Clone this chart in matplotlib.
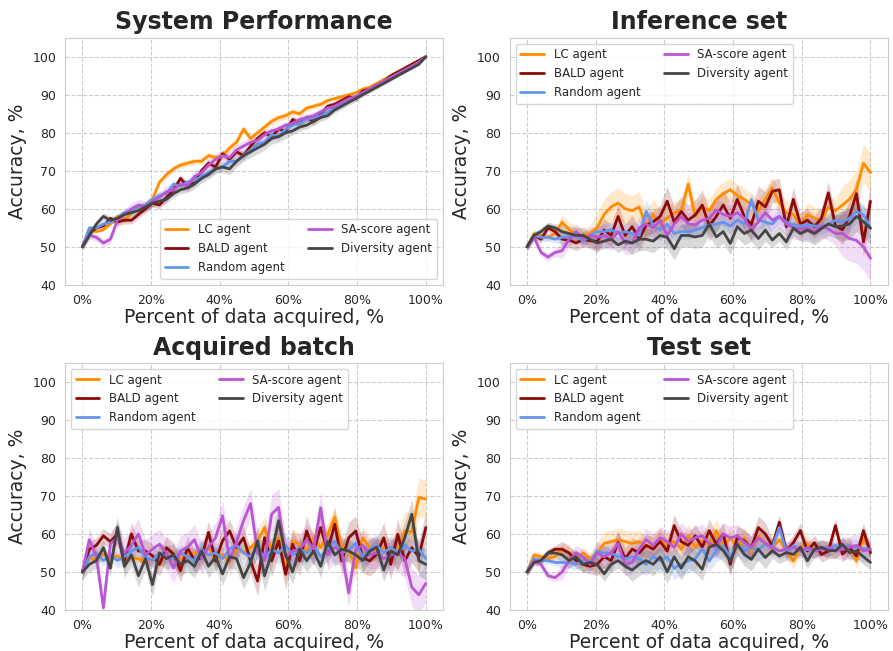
import numpy as np
import matplotlib
matplotlib.use("Agg")
import matplotlib.pyplot as plt
import seaborn as sns
from matplotlib.ticker import FuncFormatter

sns.set_style("whitegrid", {"grid.linestyle": "--"})
plt.rcParams['font.family'] = ['DejaVu Sans']

# agents and colours
agents = ['LC agent', 'BALD agent', 'Random agent', 'SA-score agent', 'Diversity agent']
colors = ['darkorange', '#8b0a0a', 'cornflowerblue', 'mediumorchid', '#454545']
titles = ['System Performance', 'Inference set', 'Acquired batch', 'Test set']

# percent of data acquired (50 steps)
pct = np.linspace(0, 100, 50)

# ---- System Performance ----
sys_lc = [50, 54.5, 54, 54.5, 56, 58, 57, 59, 60.5, 61, 62.5, 67, 69, 70.5, 71.5, 72, 72.5, 72.5, 74, 73.5,
          74, 76, 77.5, 81, 78.5, 80, 81.5, 83, 84, 84.5, 85.5, 85, 86.5, 87, 87.5, 88.5, 89, 89.5, 90, 90.5,
          91.5, 92, 93, 94, 95, 96, 97, 98, 99, 100]
sys_bald = [50, 53.5, 55, 55.5, 57.5, 56.5, 57, 57, 58.5, 60, 61.5, 61, 63, 65, 68, 66, 67, 70, 72, 71,
            74.5, 73, 75, 74, 76.5, 78.5, 80, 79, 81, 80.5, 83.5, 82.5, 84, 83, 85, 87, 87.5, 88.5, 89.5, 89,
            91, 91.5, 92.5, 93.5, 95, 96, 97, 98, 99, 100]
sys_rand = [50, 55, 55, 56, 56.5, 57.5, 59, 59.5, 60.5, 61, 62.5, 63.5, 64, 66.5, 66, 67, 67.5, 68.5, 69.5, 70.5,
            71, 72.5, 72.5, 74, 75.5, 77, 77.5, 79.5, 79, 81, 82, 82.5, 83.5, 84, 84.5, 85.5, 86.5, 87.5, 88.5, 89.5,
            90.5, 91.5, 92.5, 93.5, 94.5, 95.5, 96.5, 97.5, 98.5, 100]
sys_sa = [50, 53, 52.5, 51, 52, 57, 58.5, 60, 61, 60.5, 62, 63, 64.5, 65, 66.5, 66, 68.5, 69.5, 71.5, 73,
          74, 73.5, 75.5, 76.5, 77.5, 78, 79.5, 80.5, 81, 82, 82.5, 83.5, 84, 84.5, 85.5, 86.5, 87, 88, 89, 89.5,
          90.5, 91.5, 92.5, 93.5, 94.5, 95.5, 96.5, 97.5, 98.5, 100]
sys_div = [50, 53, 56, 58, 57, 57.5, 58.5, 59, 59.5, 60.5, 61.5, 62, 62.5, 64, 65, 65.5, 66.5, 68, 69, 70.5,
           71, 70.5, 72.5, 74, 75, 76, 77, 78.5, 79, 80, 80.5, 81.5, 82, 83, 84, 84.5, 86, 87, 88, 89,
           90, 91, 92, 93, 94, 95, 96, 97, 98, 100]
sys_std = [[0.3, 0.8, 0.8, 0.8, 1.0, 1.0, 0.8, 0.6, 0.4, 0.2],
           [0.5, 1.0, 1.0, 1.0, 1.0, 1.0, 1.0, 0.8, 0.5, 0.2],
           [0.5, 1.0, 1.0, 1.0, 1.0, 1.0, 0.8, 0.6, 0.4, 0.2],
           [1.0, 1.5, 1.5, 1.5, 1.5, 1.0, 1.0, 0.8, 0.5, 0.2],
           [1.0, 1.0, 1.0, 1.2, 1.5, 1.5, 1.0, 0.8, 0.5, 0.2]]

# ---- Inference set ----
inf_lc = [50, 53.5, 53, 52.5, 53.5, 56.5, 54.5, 53.5, 53, 53.5, 55, 58.5, 60.5, 61.5, 60, 59.5, 60.5, 55.5, 58.5, 56,
          57.5, 59, 59.5, 66.5, 58, 60.5, 59.5, 62.5, 64, 65, 63.5, 62.5, 61, 59.5, 62.5, 65.5, 61.5, 59, 58.5, 55.5,
          58.5, 57.5, 57, 60.5, 59.5, 61, 62.5, 65, 72, 69.5]
inf_bald = [50, 53, 52, 55, 54, 52, 51.8, 51, 52, 51.6, 51.4, 54.4, 53, 58, 53, 55.3, 52, 55.7, 56.6, 58,
            62, 56.5, 59.3, 57, 58.4, 61, 55.5, 58, 61, 57.5, 62.5, 58, 55.8, 62, 60.5, 64.6, 65, 55.3, 62.5, 56,
            57, 55.3, 57.5, 64.2, 55.5, 54.5, 58, 64, 51.3, 62]
inf_rand = [50, 53, 52.5, 52.5, 52, 52.5, 52.5, 53, 51.5, 53, 54, 54, 54.5, 53.5, 54, 53.5, 53, 59.3, 55.5, 54.5,
            56, 53.5, 54, 54, 54.4, 55, 55.8, 56, 56.5, 55.5, 57, 56, 62.4, 57, 56.5, 56, 58, 56.5, 55.8, 55.5,
            55.8, 55.5, 55.3, 56, 57, 56.5, 57.5, 59.3, 58.4, 54.9]
inf_sa = [50, 52.5, 48.5, 47.3, 48.5, 49, 52, 54, 52, 53, 52.5, 53, 52, 54, 51, 51, 55, 56, 55, 57,
          53, 56, 58, 56, 55.8, 57, 57.5, 59.7, 58.5, 58, 59, 57.5, 54.5, 56.5, 59, 57, 58, 56, 55, 54.7,
          55, 54, 55.5, 54.7, 53.5, 53.5, 52.2, 51.7, 50, 47]
inf_div = [50, 53, 54, 55.5, 55, 54, 53.5, 53, 53, 52, 51, 51.5, 52, 50.5, 51.5, 51, 52, 52, 51.5, 53,
           52.5, 49.5, 53, 53, 52.6, 53, 56, 52.6, 54, 50.9, 55.3, 53.5, 54.4, 52.2, 54.4, 51.8, 53.5, 51.3, 54.9, 53.5,
           54.4, 53.5, 54.8, 56, 55.3, 55.5, 56, 58, 56.6, 54.9]
inf_std = [[1, 2, 4, 4, 3, 3, 3, 3, 3, 5],
           [1, 2, 3, 3, 4, 4, 4, 3, 3, 4],
           [1, 1.5, 2, 3, 2, 2, 2, 2, 2, 3],
           [1, 2, 3, 3, 3, 3, 3, 3, 3, 6],
           [1, 2, 2, 3, 3, 3, 3, 2, 3, 4]]

# ---- Acquired batch ----
acq_lc = [50, 53.8, 53, 54.7, 53.8, 54.2, 52.9, 53.8, 53.4, 52.9, 53.4, 52.9, 53.8, 54.7, 53.4, 54.7, 55.1, 54.7, 56.4, 52.9,
          54.7, 52.5, 56.4, 55.1, 56.4, 58.2, 61.7, 55.5, 59, 50.3, 58.2, 57.3, 55.5, 59, 56.4, 59.9, 64.4, 56.6, 55.5, 51.1,
          59, 56.4, 55.5, 56.4, 56, 55.5, 60.8, 60.5, 69.6, 69.2]
acq_bald = [50, 56, 57, 59.5, 58, 60, 52.9, 60, 55.5, 55.5, 54.3, 52, 56.4, 54.7, 50.3, 56.4, 52.9, 53.8, 60.4, 52.9,
            58.2, 60.8, 56.4, 59, 52.9, 47.6, 59, 52.9, 58.2, 49.4, 57.3, 52.9, 60.8, 55.5, 61.7, 55.5, 62.6, 52.9, 59, 60.8,
            53.8, 52.9, 54.7, 59, 52, 59.9, 52.9, 56.4, 54, 61.7]
acq_rand = [50, 54, 55, 53, 54.5, 53, 54, 55.5, 56.5, 54, 53, 55, 54, 53.5, 55, 54, 53, 56, 54.5, 55,
            53.5, 56, 57, 55, 54, 56.5, 53.5, 56, 55, 57, 54.5, 56, 55, 57, 54, 56, 58, 55, 56, 57.5,
            54, 56, 57, 55, 56.5, 55, 57, 55.5, 56, 53.5]
acq_sa = [50, 58.5, 54, 40.6, 57.5, 59, 55, 57, 60, 54.5, 56, 57.3, 55, 51, 55.5, 56.5, 58.5, 53.5, 56.5, 59,
          64.8, 53, 58, 63.5, 68, 55, 53, 65.2, 67, 54, 55.5, 56, 58.5, 56, 66.9, 54.5, 56.5, 55.5, 44.5, 56,
          57, 54.5, 55, 53.5, 54.5, 55, 53.5, 46, 44, 47]
acq_div = [50, 52, 53, 56.4, 51, 61.7, 51.5, 54.5, 49, 53.5, 46.7, 55, 53.5, 54.5, 52, 53, 51.5, 55.5, 51.5, 54,
           49.5, 54, 53.5, 48.5, 52.5, 58.2, 49, 55, 63.5, 54.5, 50, 56, 53, 55.5, 51.5, 58, 54.5, 56, 55.5, 54.5,
           53, 55.5, 56.5, 50.5, 55.5, 54.5, 59, 65.2, 53, 52]
acq_std = [[1, 1, 1.5, 1.5, 2, 3, 3, 3, 3, 5],
           [2, 3, 3, 3, 3, 4, 4, 4, 4, 4],
           [1.5, 2, 2, 3, 3, 3, 3, 3, 3, 3],
           [3, 4, 4, 4, 4, 5, 4, 4, 4, 5],
           [2, 3, 3, 3, 3, 4, 3, 3, 3, 4]]

# ---- Test set ----
test_lc = [50, 54.5, 54, 53.5, 54, 56, 55, 53.5, 55, 53.5, 55, 57.5, 58, 58.5, 58, 57.5, 58, 56.5, 57, 58.5,
           57, 58, 56, 59.5, 56.5, 58.2, 57, 60.9, 56.5, 59, 56.5, 59, 55.5, 59.5, 57.5, 56.5, 58.5, 55.5, 52.9, 56.5,
           57.5, 55.5, 56.5, 56, 55.5, 56.5, 57, 53, 58.7, 55.6]
test_bald = [50, 53, 53, 55, 56, 56, 55, 53, 52, 51.5, 52, 54, 53, 57.8, 53.5, 56, 55, 57, 56, 58,
             55.5, 62.2, 58, 57, 59.5, 56.5, 60.9, 57.3, 60, 52, 59.1, 58.2, 56.4, 61.7, 60, 56.9, 63.1, 55.5, 57.7, 60.9,
             55.5, 57.7, 54.6, 55.5, 62.2, 54.7, 56.5, 54.2, 60.9, 55]
test_rand = [50, 53.5, 53, 53, 52.5, 52.5, 52.5, 52, 53, 52.5, 55.5, 55, 55, 54, 53.5, 54, 53.5, 52, 54, 53,
             54, 51, 52, 52.9, 53.5, 56.1, 52.9, 55.6, 56.9, 53.8, 57.3, 55.6, 56.5, 55.9, 57.3, 56.5, 61.7, 55.2, 56.9, 56,
             55.9, 55.6, 56.5, 56, 56.9, 56.5, 56.9, 56.5, 56.2, 56]
test_sa = [50, 53, 52, 49, 48.5, 50, 53, 55, 54, 52, 55, 54, 55, 57.5, 52, 52.5, 56, 58.5, 57, 59,
           58, 56.5, 60, 58, 59, 59.5, 57.5, 56.5, 60, 59, 59.5, 57.8, 56.5, 59, 57.5, 56.5, 55.5, 56, 56.5, 55.5,
           56.5, 55.5, 56, 56.5, 55.5, 56, 56.5, 57, 55.5, 56]
test_div = [50, 52.5, 53, 55, 55, 54.5, 53, 54, 52, 52.5, 52, 49.5, 52, 53, 51.5, 50.5, 52, 53, 52, 54,
            50, 54, 51, 54, 52.9, 50.7, 56.5, 57.3, 55.6, 52.9, 57.3, 54.6, 53.3, 56, 53.8, 55.6, 54.2, 55.1, 54.6, 56.5,
            52.9, 56, 56.5, 55.6, 55.6, 57.3, 55.1, 55.5, 54, 52.5]
test_std = [[1, 1.5, 3, 3, 3, 3, 2.5, 2, 2, 2],
            [1, 2, 3, 3, 3, 3, 3, 2, 2, 2],
            [1, 1.5, 2, 3, 3, 3, 3, 2, 2, 2],
            [1, 2, 3, 3, 3, 3, 3, 2, 2, 3],
            [1, 2, 2, 3, 3, 3, 3, 2, 2, 2]]

panels = [([sys_lc, sys_bald, sys_rand, sys_sa, sys_div], sys_std),
          ([inf_lc, inf_bald, inf_rand, inf_sa, inf_div], inf_std),
          ([acq_lc, acq_bald, acq_rand, acq_sa, acq_div], acq_std),
          ([test_lc, test_bald, test_rand, test_sa, test_div], test_std)]

fig, axes = plt.subplots(2, 2, figsize=(8.93, 6.51), dpi=100)
fig.subplots_adjust(left=0.073, right=0.994, top=0.942, bottom=0.063, wspace=0.177, hspace=0.316)

for k, ax in enumerate(axes.flat):
    means, stds = panels[k]
    for m, s, c, lab in zip(means, stds, colors, agents):
        m = np.array(m)
        s = np.repeat(s, 5)
        ax.fill_between(pct, m - s, m + s, color=c, alpha=0.2, linewidth=0)
        ax.plot(pct, m, color=c, lw=2, label=lab)
    ax.set_ylim(40, 105)
    ax.set_yticks(range(40, 101, 10))
    ax.set_xticks(range(0, 101, 20))
    ax.xaxis.set_major_formatter(FuncFormatter(lambda v, p: '%d%%' % v))
    ax.tick_params(labelsize=9, colors='.15', length=3, color='.8')
    ax.set_title(titles[k], fontsize=17, fontweight='bold', color='.15')
    ax.set_xlabel('Percent of data acquired, %', fontsize=13.5, color='.15', labelpad=1)
    ax.set_ylabel('Accuracy, %', fontsize=13.5, color='.15')
    loc = 'lower right' if k == 0 else 'upper left'
    ax.legend(loc=loc, ncol=2, fontsize=8.5, frameon=True)

plt.savefig('out.png', dpi=100)
